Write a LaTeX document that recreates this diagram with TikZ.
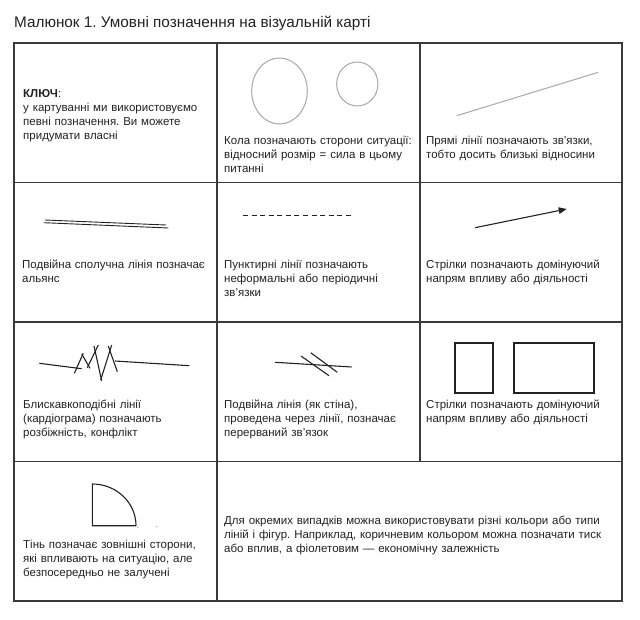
\documentclass[tikz,border=0pt]{standalone}
\usepackage{fontspec}
\setmainfont{Liberation Sans}
\usetikzlibrary{shapes.geometric,arrows.meta}
\definecolor{border}{HTML}{3A3A3A}
\definecolor{ink}{HTML}{222222}
\definecolor{soft}{HTML}{A8A8A8}
\frenchspacing

\begin{document}
\begin{tikzpicture}[
    x=1pt, y=-1pt,
    frame/.style={line width=1.5pt, border},
    legend/.style={anchor=base west, align=left, text width=200pt, inner sep=0pt, text=ink, font=\fontsize{11.5}{13.8}\selectfont},
    wide/.style={legend, text width=396pt},
    sym/.style={line width=1.1pt, ink},
    thin/.style={line width=1pt, soft},
    oval/.style={ellipse, draw=soft, line width=1pt, inner sep=0pt},
    box/.style={rectangle, draw=ink, line width=1.1pt, inner sep=0pt}
]
\useasboundingbox (0,0) rectangle (640,620);

% заголовок
\node[anchor=base west, inner sep=0pt, text=ink, font=\fontsize{15.3}{18}\selectfont] (title) at (14,27.5) {Малюнок 1. Умовні позначення на візуальній карті};

% таблиця
\draw[frame] (14,43) rectangle (622,601);
\foreach \y in {182.5,322,461.5}
    \draw[frame] (14,\y) -- (622,\y);
\draw[frame] (217,43) -- (217,601);
\draw[frame] (420,43) -- (420,461.5);

% ряд 1
\node[legend] (key) at (23,98) {\textbf{КЛЮЧ}:\\у картуванні ми використовуємо\\певні позначення. Ви можете\\придумати власні};
\node[oval, minimum width=55.6pt, minimum height=66pt] (bigside) at (279.5,91) {};
\node[oval, minimum width=41.3pt, minimum height=44pt] (smallside) at (357.3,84) {};
\node[legend] (sides) at (224,145) {Кола позначають сторони ситуації:\\відносний розмір = сила в цьому\\питанні};
\draw[thin] (456.7,115.7) -- (598.3,72.3);
\node[legend] (links) at (426,145) {Прямі лінії позначають зв’язки,\\тобто досить близькі відносини};

% ряд 2
\draw[sym, line width=0.9pt] (45,220) -- (166,225);
\draw[sym, line width=0.9pt] (44,222.7) -- (168.3,228);
\node[legend] (alliance) at (22,269) {Подвійна сполучна лінія позначає\\альянс};
\draw[sym, line width=0.9pt, dash pattern=on 5pt off 3.58pt] (243,215.7) -- (351,215.7);
\node[legend] (informal) at (224,269) {Пунктирні лінії позначають\\неформальні або періодичні\\зв’язки};
\draw[sym, -{Triangle[length=8pt,width=6.5pt]}] (475,227.7) -- (566.7,209);
\node[legend] (arrows) at (426,269) {Стрілки позначають домінуючий\\напрям впливу або діяльності};

% ряд 3
\draw[sym] (39.3,363.3) -- (81.7,368.7);
\draw[sym] (115,361) -- (189.3,365.7);
\foreach \a/\b/\c/\d in {74.3/373.3/83.3/353.3, 81.7/354/90/368.3, 87.3/367.7/98.3/345,
                         94/346/101.7/381, 100.7/380/111.7/345, 108.3/346/117.3/371.7}
    \draw[sym] (\a,\b) -- (\c,\d);
\node[legend] (conflict) at (23,408.5) {Блискавкоподібні лінії\\(кардіограма) позначають\\розбіжність, конфлікт};
\draw[sym] (275,362.3) -- (351.7,367);
\draw[sym] (301,356) -- (329,375.7);
\draw[sym] (310.7,352.7) -- (337.3,372.3);
\node[legend] (broken) at (224,408.5) {Подвійна лінія (як стіна),\\проведена через лінії, позначає\\перерваний зв’язок};
\node[box, minimum width=38pt, minimum height=50pt] (square) at (474,368) {};
\node[box, minimum width=80pt, minimum height=50pt] (oblong) at (554,368) {};
\node[legend] (boxes) at (426,408.5) {Стрілки позначають домінуючий\\напрям впливу або діяльності};

% ряд 4
\draw[sym] (136,525.7) -- (92.3,525.7) -- (92.3,484)
    arc[start angle=-90, end angle=0, x radius=43.7, y radius=41.7];
\fill[soft!60!blue!60] (137.7,527.3) circle (0.7) (156.7,526.7) circle (0.7);
\node[legend] (shadow) at (23,548.5) {Тінь позначає зовнішні сторони,\\які впливають на ситуацію, але\\безпосередньо не залучені};
\node[wide] (colours) at (224,524.5) {Для окремих випадків можна використовувати різні кольори або типи\\ліній і фігур. Наприклад, коричневим кольором можна позначати тиск\\або вплив, а фіолетовим — економічну залежність};

\end{tikzpicture}
\end{document}
